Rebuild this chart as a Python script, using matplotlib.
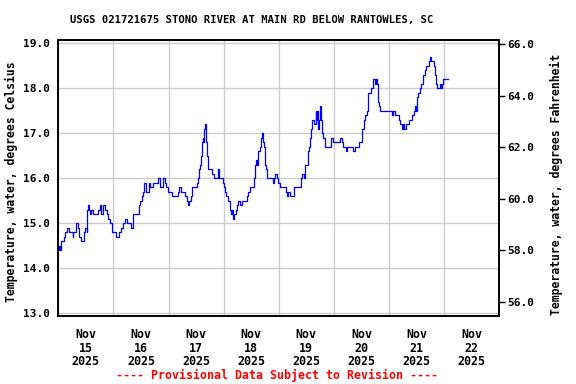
import matplotlib
matplotlib.use("Agg")
import matplotlib.pyplot as plt
import matplotlib.dates as mdates
from matplotlib.ticker import NullFormatter
from datetime import datetime, timedelta

# hours since 2025-11-15 00:00 and water temperature (deg C)
hours = [
    0.0, 0.2, 0.6, 1.0, 1.3, 2.2, 2.6, 3.1, 3.9, 4.5, 5.5, 6.3, 6.6, 7.4, 7.7,
    8.4, 9.2, 9.9, 10.6, 11.2, 11.8, 12.4, 12.6, 13.0, 13.2, 13.8, 14.2, 15.0,
    16.4, 17.2, 18.2, 18.7, 19.6, 20.5, 21.1, 21.8, 22.5, 23.4, 24.4, 25.1,
    26.3, 27.3, 28.0, 29.2, 29.8, 30.9, 31.7, 32.4, 34.6, 35.0, 35.6, 36.3,
    37.0, 37.5, 38.2, 39.4, 40.1, 41.1, 42.6, 43.3, 44.3, 45.5, 46.6, 47.0,
    47.9, 49.4, 51.6, 51.9, 52.6, 53.5, 54.5, 55.2, 55.9, 56.4, 57.0, 57.7,
    58.1, 59.6, 60.3, 61.0, 61.4, 61.9, 62.2, 62.5, 62.9, 63.2, 63.5, 63.9,
    64.2, 64.5, 64.8, 65.1, 66.5, 66.8, 67.7, 68.0, 69.4, 69.7, 70.1, 71.2,
    71.5, 72.0, 72.6, 73.2, 74.1, 74.8, 75.2, 75.5, 76.2, 76.7, 77.3, 77.7,
    78.4, 79.1, 79.9, 81.3, 82.1, 82.5, 83.5, 84.5, 85.0, 85.7, 86.1, 86.6,
    87.1, 87.9, 88.3, 88.9, 89.3, 89.6, 89.8, 90.3, 90.8, 93.0, 93.4, 93.8,
    94.4, 95.1, 95.8, 96.6, 98.5, 99.0, 99.5, 100.2, 100.8, 101.9, 102.4,
    105.3, 105.7, 106.3, 106.9, 107.5, 108.5, 108.9, 109.3, 109.8, 110.1,
    110.6, 111.2, 111.8, 112.1, 112.4, 112.7, 113.1, 113.7, 114.1, 114.4,
    114.7, 115.3, 115.9, 118.4, 118.6, 119.4, 119.8, 122.0, 122.7, 123.4,
    123.9, 124.9, 125.2, 125.8, 127.5, 128.1, 129.0, 129.2, 130.7, 131.6,
    132.1, 132.9, 133.6, 134.3, 135.0, 135.5, 136.1, 136.8, 137.5, 137.8,
    138.2, 138.7, 139.0, 139.6, 140.1, 145.2, 145.5, 145.9, 146.4, 147.8,
    148.4, 148.8, 149.6, 150.0, 150.3, 151.3, 152.2, 152.8, 153.6, 154.2,
    154.8, 155.4, 155.8, 156.3, 156.8, 157.4, 158.0, 158.6, 159.1, 159.7,
    160.3, 160.9, 161.5, 161.9, 162.3, 162.9, 163.5, 163.9, 164.2, 164.5,
    165.0, 165.5, 166.0, 166.4, 167.0, 167.7, 169.6,
]
temp_c = [
    14.4, 14.5, 14.4, 14.5, 14.6, 14.6, 14.7, 14.8, 14.9, 14.8, 14.8, 14.7, 14.8, 14.8, 15.0,
    14.9, 14.7, 14.6, 14.6, 14.8, 14.9, 14.8, 15.3, 15.4, 15.3, 15.2, 15.3, 15.2,
    15.2, 15.3, 15.4, 15.2, 15.4, 15.3, 15.2, 15.1, 15.0, 14.8, 14.8, 14.7,
    14.8, 14.9, 15.0, 15.1, 15.0, 15.0, 14.9, 15.2, 15.2, 15.4, 15.5, 15.6,
    15.7, 15.9, 15.7, 15.9, 15.8, 15.9, 15.9, 16.0, 15.8, 16.0, 15.9, 15.8,
    15.7, 15.6, 15.6, 15.7, 15.8, 15.7, 15.7, 15.6, 15.5, 15.4, 15.5, 15.6,
    15.8, 15.8, 15.9, 16.0, 16.2, 16.3, 16.5, 16.8, 16.9, 16.8, 17.1, 17.2,
    17.1, 16.8, 16.5, 16.2, 16.2, 16.1, 16.1, 16.0, 16.0, 16.2, 16.0, 16.0,
    15.9, 15.8, 15.7, 15.6, 15.5, 15.3, 15.2, 15.3, 15.1, 15.2, 15.3, 15.4,
    15.5, 15.4, 15.5, 15.5, 15.6, 15.7, 15.8, 15.8, 16.0, 16.3, 16.4, 16.3,
    16.6, 16.7, 16.9, 17.0, 16.8, 16.7, 16.3, 16.2, 16.0, 16.0, 15.9, 16.0,
    16.1, 16.0, 15.9, 15.8, 15.8, 15.7, 15.6, 15.7, 15.6, 15.6, 15.8,
    15.8, 16.0, 16.1, 16.0, 16.3, 16.3, 16.6, 16.7, 16.9, 17.1,
    17.3, 17.2, 17.2, 17.5, 17.3, 17.5, 17.1, 17.3, 17.6, 17.3,
    17.0, 16.9, 16.7, 16.7, 16.9, 16.9, 16.8, 16.8, 16.9, 16.8,
    16.7, 16.7, 16.6, 16.7, 16.7, 16.6, 16.6, 16.7, 16.8, 16.8,
    17.1, 17.3, 17.4, 17.5, 17.9, 17.9, 18.0, 18.2, 18.2, 18.1,
    18.2, 18.1, 17.7, 17.6, 17.5, 17.5, 17.4, 17.5, 17.4, 17.4,
    17.3, 17.2, 17.1, 17.2, 17.1, 17.2, 17.2, 17.3, 17.3, 17.4,
    17.5, 17.6, 17.5, 17.8, 17.9, 18.0, 18.1, 18.3, 18.3, 18.4,
    18.5, 18.5, 18.6, 18.7, 18.6, 18.6, 18.5, 18.4, 18.3, 18.1,
    18.0, 18.0, 18.1, 18.0, 18.1, 18.2, 18.2,
]
c_ticks = [13.0, 14.0, 15.0, 16.0, 17.0, 18.0, 19.0]
f_ticks = [56.0, 58.0, 60.0, 62.0, 64.0, 66.0]

title = "USGS 021721675 STONO RIVER AT MAIN RD BELOW RANTOWLES, SC"
note = "---- Provisional Data Subject to Revision ----"

W, H = 576, 384
FONT = "DejaVu Sans Mono"

start = datetime(2025, 11, 15)
times = [start + timedelta(hours=h) for h in hours]

fig = plt.figure(figsize=(W / 100, H / 100), dpi=100)
ax = fig.add_axes([58.3 / W, 1 - 315.7 / H, 441 / W, 275.7 / H])

ax.plot(times, temp_c, color="#0000ff", lw=0.9, drawstyle="steps-post", zorder=3)

ax.set_xlim(start, start + timedelta(days=8))
ax.set_ylim(12.95, 19.07)
ax.set_yticks(c_ticks)
ax.set_yticklabels([f"{v:.1f}" for v in c_ticks], family=FONT, weight="bold", fontsize=8)
ax.tick_params(axis="y", length=0, pad=6)

ax.xaxis.set_major_locator(mdates.DayLocator())
ax.xaxis.set_major_formatter(NullFormatter())
ax.xaxis.set_minor_locator(mdates.HourLocator(byhour=12))
ax.xaxis.set_minor_formatter(mdates.DateFormatter("%b\n%d\n%Y"))
ax.tick_params(axis="x", which="both", length=0, pad=9)
for lab in ax.get_xticklabels(minor=True):
    lab.set_family(FONT)
    lab.set_weight("bold")
    lab.set_fontsize(8.4)
    lab.set_linespacing(1.05)

ax.grid(True, which="major", color="#cccccc", lw=1)
for s in ax.spines.values():
    s.set_linewidth(1.2)

ax2 = ax.twinx()
ax2.set_ylim(55.47, 66.155)
ax2.set_yticks(f_ticks)
ax2.set_yticklabels([f"{v:.1f}" for v in f_ticks], family=FONT, weight="bold", fontsize=8)
ax2.tick_params(axis="y", length=4, width=1, pad=2)
for s in ax2.spines.values():
    s.set_linewidth(1.2)

fig.text(252 / W, 1 - 20 / H, title, ha="center", va="center",
         family=FONT, weight="bold", fontsize=7.6)
fig.text(11 / W, 1 - 182 / H, "Temperature, water, degrees Celsius", rotation=90,
         ha="center", va="center", family=FONT, weight="bold", fontsize=8.3)
fig.text(556 / W, 1 - 184 / H, "Temperature, water, degrees Fahrenheit", rotation=90,
         ha="center", va="center", family=FONT, weight="bold", fontsize=8.3)
fig.text(277 / W, 1 - 375 / H, note, ha="center", va="center", color="red",
         family=FONT, weight="bold", fontsize=8.4)

fig.savefig("out.png", dpi=100)
